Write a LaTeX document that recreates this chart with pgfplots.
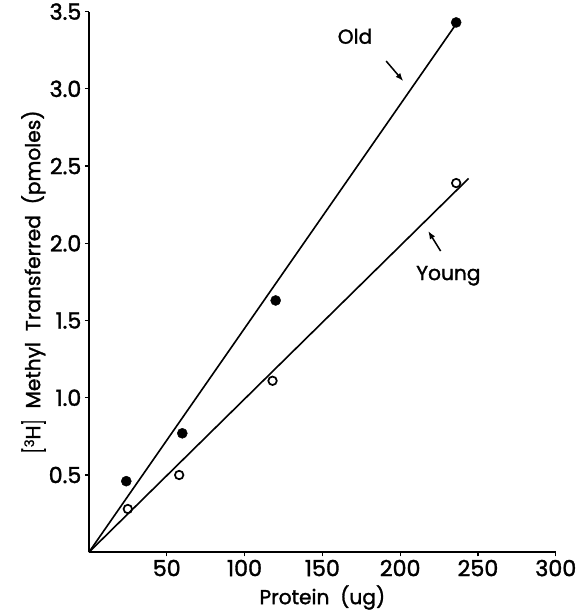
\documentclass[border=0pt]{standalone}
\usepackage{fontspec}
\setmainfont{Poppins}[FakeBold=1.5]
\usepackage{pgfplots}
\pgfplotsset{compat=1.18}
\usetikzlibrary{arrows.meta}

\begin{document}
\begin{tikzpicture}
\begin{axis}[
  scale only axis,
  width=462pt, height=535pt,
  xmin=0, xmax=300, ymin=0, ymax=3.5,
  axis x line*=bottom, axis y line*=left,
  axis line style={line width=2pt, -},
  xtick={50,100,...,300},
  ytick={0.5,1,...,3.5},
  yticklabel style={/pgf/number format/.cd, fixed, fixed zerofill, precision=1},
  /pgf/number format/assume math mode=true,
  tick style={line width=1.2pt, black},
  major tick length=4pt,
  tick align=outside,
  ticklabel style={font=\fontsize{22}{26}\selectfont},
  label style={font=\fontsize{20}{24}\selectfont},
  xlabel={Protein\ \ (ug)},
  ylabel={\raisebox{-0.15ex}{\scalebox{1}[1.5]{\Large[}}\raisebox{0.55ex}{\fontsize{13}{14}\selectfont 3}H\raisebox{-0.15ex}{\scalebox{1}[1.5]{\Large]}}\ \ Methyl\ \ Transferred\ \ (pmoles)},
  xlabel style={yshift=-2pt},
  ylabel style={yshift=-4pt},
  clip=false,
]
% Old
\addplot[black, line width=1.6pt] coordinates {(0,0) (236,3.42)};
\addplot[only marks, mark=*, mark size=5pt, black] coordinates {
  (24,0.46) (60,0.77) (120,1.63) (236,3.43)};
% Young
\addplot[black, line width=1.6pt] coordinates {(0,0) (244,2.42)};
\addplot[only marks, mark=o, mark size=4.2pt, line width=1.7pt, black, fill=white] coordinates {
  (25,0.28) (58,0.50) (118,1.11) (236,2.39)};

\node[font=\fontsize{20}{24}\selectfont] at (axis cs:171,3.34) {Old};
\draw[-{Latex[length=8pt,width=6pt]}, line width=1.5pt] (axis cs:191,3.18) -- (axis cs:202,3.05);
\node[font=\fontsize{20}{24}\selectfont] at (axis cs:231,1.79) {Young};
\draw[-{Latex[length=8pt,width=6pt]}, line width=1.5pt] (axis cs:226,1.95) -- (axis cs:218,2.08);
% a little room on the left, as in the original
\path (rel axis cs:0,0) ++(-88pt,0) coordinate (padL);
\path (padL) -- ++(0,1pt);
\end{axis}
\end{tikzpicture}
\end{document}
